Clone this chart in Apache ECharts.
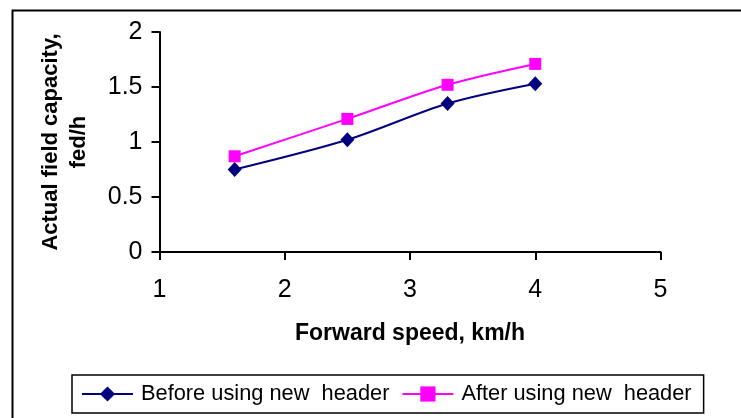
<!DOCTYPE html>
<html>
<head>
<meta charset="utf-8">
<script src="https://cdn.jsdelivr.net/npm/echarts@6/dist/echarts.min.js"></script>
<style>
html,body{margin:0;padding:0;background:#fff;}
#c{width:741px;height:418px;}
</style>
</head>
<body>
<div id="c"></div>
<script>
var speeds = [1.6, 2.5, 3.3, 4.0];
var beforeValues = [0.75, 1.02, 1.35, 1.53];
var afterValues = [0.87, 1.21, 1.52, 1.71];
var seriesNames = ['Before using new  header', 'After using new  header'];
var xTitle = 'Forward speed, km/h';
var yTitle = 'Actual field capacity,\nfed/h';

function pairs(xs, ys) { return xs.map(function (x, i) { return [x, ys[i]]; }); }

var chart = echarts.init(document.getElementById('c'), null, {renderer: 'canvas'});
var font = "'Liberation Sans', Arial, sans-serif";
chart.setOption({
  animation: false,
  backgroundColor: '#fff',
  graphic: [{
    type: 'rect', left: 10, top: 8, silent: true,
    shape: {x: 0, y: 0, width: 800, height: 500},
    style: {fill: 'none', stroke: '#000', lineWidth: 2}
  }],
  grid: {left: 159.5, right: 80.5, top: 32, bottom: 166},
  xAxis: {
    type: 'value', min: 1, max: 5, interval: 1,
    name: xTitle, nameLocation: 'middle', nameGap: 70,
    nameTextStyle: {fontFamily: font, fontWeight: 'bold', fontSize: 23, color: '#000'},
    axisLine: {onZero: false, lineStyle: {color: '#000', width: 2}},
    axisTick: {show: true, length: 8, lineStyle: {color: '#000', width: 2}},
    axisLabel: {margin: 26, fontFamily: font, fontSize: 25, color: '#000'},
    splitLine: {show: false}
  },
  yAxis: {
    type: 'value', min: 0, max: 2, interval: 0.5,
    name: yTitle, nameLocation: 'middle', nameGap: 67, nameRotate: 90,
    nameTextStyle: {fontFamily: font, fontWeight: 'bold', fontSize: 22, lineHeight: 28, color: '#000', align: 'center'},
    axisLine: {show: true, lineStyle: {color: '#000', width: 2}},
    axisTick: {show: true, length: 8, lineStyle: {color: '#000', width: 2}},
    axisLabel: {margin: 17, fontFamily: font, fontSize: 25, color: '#000'},
    splitLine: {show: false}
  },
  legend: {
    left: 72, top: 375,
    padding: [8, 12, 8, 9],
    borderColor: '#000', borderWidth: 1.5,
    itemWidth: 51, itemHeight: 19, itemGap: 12,
    textStyle: {fontFamily: font, fontSize: 21.8, color: '#000', padding: [0, 0, 0, 3]},
    data: seriesNames
  },
  series: [{
    name: seriesNames[0], type: 'line', smooth: 0.3,
    data: pairs(speeds, beforeValues),
    symbol: 'diamond', symbolSize: [14, 15],
    lineStyle: {color: '#000080', width: 2},
    itemStyle: {color: '#000080'}
  }, {
    name: seriesNames[1], type: 'line', smooth: 0.3,
    data: pairs(speeds, afterValues),
    symbol: 'rect', symbolSize: 12,
    lineStyle: {color: '#ff00ff', width: 2},
    itemStyle: {color: '#ff00ff'}
  }]
});
</script>
</body>
</html>
